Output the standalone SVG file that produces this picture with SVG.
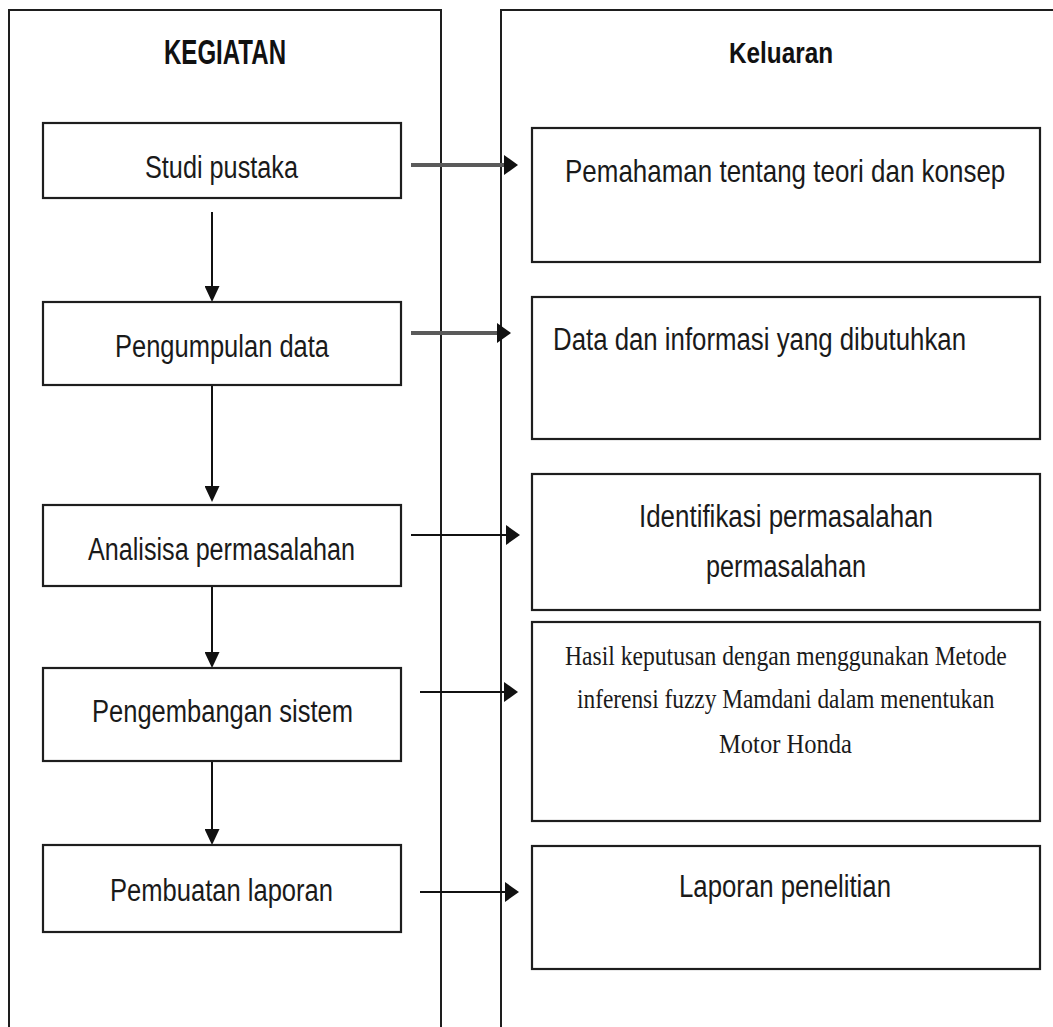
<svg xmlns="http://www.w3.org/2000/svg" width="1053" height="1027" viewBox="0 0 1053 1027">
<style>
.frame{fill:none;stroke:#1e1e1e;stroke-width:2}
.box{fill:#fff;stroke:#1e1e1e;stroke-width:2.2}
.t{font-family:"Liberation Sans",Arial,sans-serif;font-size:31px;fill:#1a1a1a}
.h{font-family:"Liberation Sans",Arial,sans-serif;font-weight:bold;fill:#111}
.s{font-family:"Liberation Serif","Times New Roman",serif;font-size:28px;fill:#1a1a1a}
.c{fill:none;stroke:#111;stroke-width:2}
.cg{fill:none;stroke:#5a5a5a;stroke-width:4}
</style>
<defs>
<marker id="ah" viewBox="0 0 14 20" refX="4" refY="10" markerWidth="14" markerHeight="20" markerUnits="userSpaceOnUse" orient="auto">
<path d="M0,0 L14,10 L0,20 z" fill="#111"/>
</marker>
<marker id="av" viewBox="0 0 16 15" refX="6" refY="7.5" markerWidth="16" markerHeight="15" markerUnits="userSpaceOnUse" orient="auto">
<path d="M0,0 L16,7.5 L0,15 z" fill="#111"/>
</marker>
</defs>
<rect width="1053" height="1027" fill="#fff"/>

<g id="col-kegiatan">
<path class="frame" d="M9,1035 V10 H441 V1035"/>
<text class="h" x="164" y="64" font-size="35" textLength="122" lengthAdjust="spacingAndGlyphs">KEGIATAN</text>
</g>
<g id="col-keluaran">
<path class="frame" d="M501,1035 V10 H1060"/>
<text class="h" x="729" y="63" font-size="29" textLength="104" lengthAdjust="spacingAndGlyphs">Keluaran</text>
</g>

<g id="connectors">
<line class="c" x1="212" y1="212" x2="212" y2="292" marker-end="url(#av)"/>
<line class="c" x1="212" y1="385" x2="212" y2="492" marker-end="url(#av)"/>
<line class="c" x1="212" y1="586" x2="212" y2="658" marker-end="url(#av)"/>
<line class="c" x1="212" y1="761" x2="212" y2="835" marker-end="url(#av)"/>
<line class="cg" x1="411" y1="165" x2="508" y2="165" marker-end="url(#ah)"/>
<line class="cg" x1="411" y1="333" x2="501" y2="333" stroke-width="3" marker-end="url(#ah)"/>
<line class="c" x1="411" y1="535" x2="510" y2="535" stroke-width="2.5" marker-end="url(#ah)"/>
<line class="c" x1="420" y1="692" x2="508" y2="692" stroke-width="2.5" marker-end="url(#ah)"/>
<line class="c" x1="420" y1="892" x2="509" y2="892" stroke-width="2.5" marker-end="url(#ah)"/>
</g>

<g id="studi-pustaka">
<rect class="box" x="43" y="123" width="358" height="75"/>
<text class="t" x="145" y="178" font-size="32" textLength="153" lengthAdjust="spacingAndGlyphs">Studi pustaka</text>
</g>
<g id="pengumpulan-data">
<rect class="box" x="43" y="302" width="358" height="83"/>
<text class="t" x="115" y="357" font-size="32" textLength="214" lengthAdjust="spacingAndGlyphs">Pengumpulan  data</text>
</g>
<g id="analisisa-permasalahan">
<rect class="box" x="43" y="505" width="358" height="81"/>
<text class="t" x="88" y="560" font-size="32" textLength="267" lengthAdjust="spacingAndGlyphs">Analisisa permasalahan</text>
</g>
<g id="pengembangan-sistem">
<rect class="box" x="43" y="668" width="358" height="93"/>
<text class="t" x="92" y="722" font-size="32" textLength="261" lengthAdjust="spacingAndGlyphs">Pengembangan sistem</text>
</g>
<g id="pembuatan-laporan">
<rect class="box" x="43" y="845" width="358" height="87"/>
<text class="t" x="110" y="901" font-size="32" textLength="223" lengthAdjust="spacingAndGlyphs">Pembuatan laporan</text>
</g>

<g id="pemahaman">
<rect class="box" x="532" y="128" width="508" height="134"/>
<text class="t" transform="translate(565,182) scale(0.837,1)" x="0" y="0" textLength="526" lengthAdjust="spacingAndGlyphs">Pemahaman tentang teori dan konsep</text>
</g>
<g id="data-informasi">
<rect class="box" x="532" y="297" width="508" height="142"/>
<text class="t" x="553" y="350" textLength="413" lengthAdjust="spacingAndGlyphs">Data dan informasi  yang dibutuhkan</text>
</g>
<g id="identifikasi">
<rect class="box" x="532" y="474" width="508" height="136"/>
<text class="t" x="639" y="527" textLength="294" lengthAdjust="spacingAndGlyphs">Identifikasi permasalahan</text>
<text class="t" x="706" y="577" textLength="160" lengthAdjust="spacingAndGlyphs">permasalahan</text>
</g>
<g id="hasil-keputusan">
<rect class="box" x="532" y="622" width="508" height="199"/>
<text class="s" transform="translate(565,665) scale(0.843,1)" x="0" y="0" textLength="524" lengthAdjust="spacingAndGlyphs">Hasil keputusan dengan menggunakan Metode</text>
<text class="s" transform="translate(577,708) scale(0.833,1)" x="0" y="0" textLength="501" lengthAdjust="spacingAndGlyphs">inferensi fuzzy Mamdani dalam menentukan</text>
<text class="s" transform="translate(719,753) scale(0.875,1)" x="0" y="0" textLength="152" lengthAdjust="spacingAndGlyphs">Motor Honda</text>
</g>
<g id="laporan-penelitian">
<rect class="box" x="532" y="846" width="508" height="123"/>
<text class="t" x="679" y="897" textLength="212" lengthAdjust="spacingAndGlyphs">Laporan penelitian</text>
</g>
</svg>
